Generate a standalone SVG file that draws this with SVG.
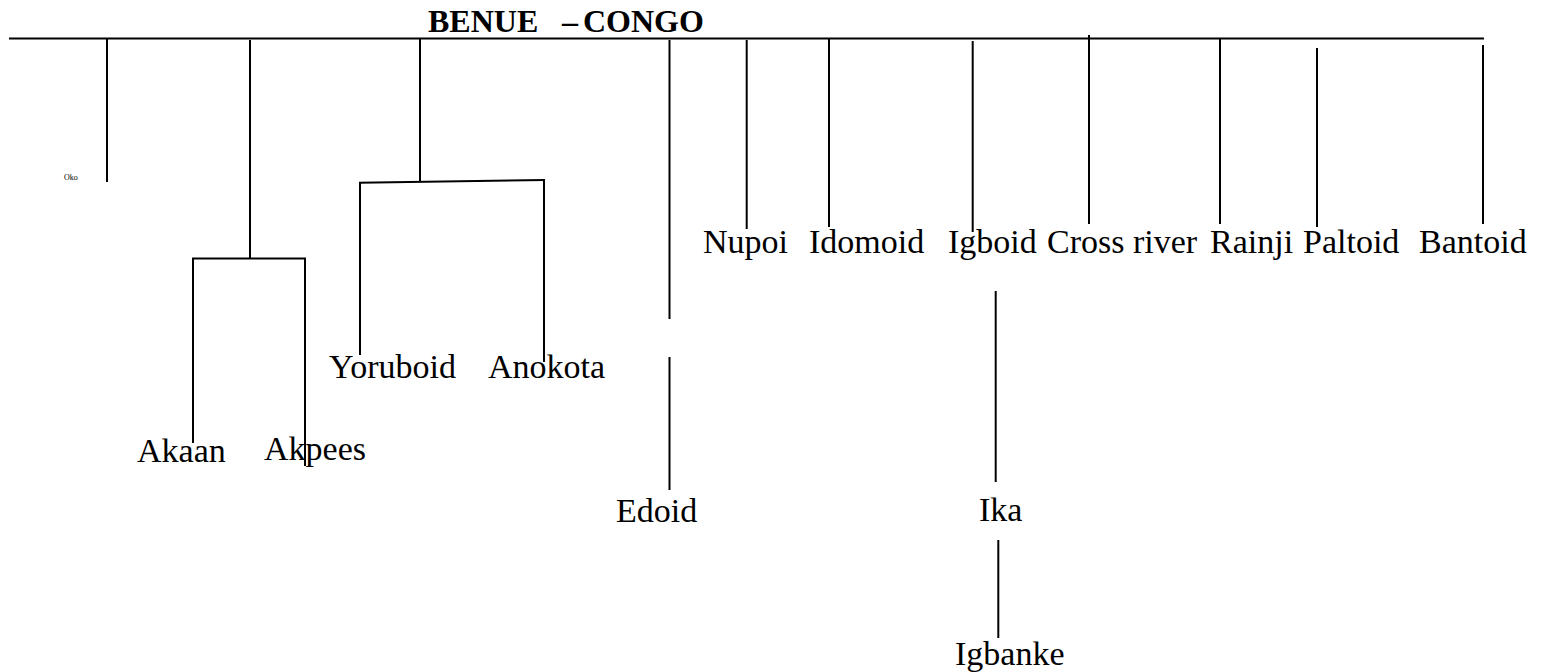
<svg xmlns="http://www.w3.org/2000/svg" width="1544" height="672" viewBox="0 0 1544 672">
<style>
.ln{stroke:#000;stroke-width:2;fill:none}
.lb{font-family:"Liberation Serif","Times New Roman",serif;font-size:34px;fill:#000}
.tt{font-family:"Liberation Serif","Times New Roman",serif;font-size:32px;font-weight:bold;fill:#000}
.sm{font-family:"Liberation Serif","Times New Roman",serif;font-size:8px;fill:#000}
</style>
<rect width="1544" height="672" fill="#fff"/>
<g id="connectors">
<line class="ln" x1="9" y1="38.5" x2="1484" y2="38.5"/>
<line class="ln" x1="107" y1="39" x2="107" y2="182"/>
<line class="ln" x1="250" y1="40" x2="250" y2="258.5"/>
<line class="ln" x1="192" y1="258.5" x2="306" y2="258.5"/>
<line class="ln" x1="193" y1="258" x2="193" y2="443"/>
<line class="ln" x1="305" y1="258" x2="305" y2="466"/>
<line class="ln" x1="420" y1="39" x2="420" y2="182"/>
<line class="ln" x1="359" y1="182.7" x2="545" y2="180"/>
<line class="ln" x1="360" y1="182" x2="360" y2="355"/>
<line class="ln" x1="544" y1="181" x2="544" y2="362"/>
<line class="ln" x1="669.5" y1="40" x2="669.5" y2="319"/>
<line class="ln" x1="669.5" y1="357" x2="669.5" y2="490"/>
<line class="ln" x1="746.7" y1="40" x2="746.7" y2="229"/>
<line class="ln" x1="829" y1="39" x2="829" y2="227"/>
<line class="ln" x1="972.7" y1="41" x2="972.7" y2="232"/>
<line class="ln" x1="1089" y1="35" x2="1089" y2="224"/>
<line class="ln" x1="1220" y1="39" x2="1220" y2="224"/>
<line class="ln" x1="1317" y1="48" x2="1317" y2="227"/>
<line class="ln" x1="1483" y1="45" x2="1483" y2="224"/>
<line class="ln" x1="995.7" y1="291" x2="995.7" y2="482"/>
<line class="ln" x1="998.3" y1="540" x2="998.3" y2="638"/>
</g>
<g id="title"><text class="tt" y="31.5"><tspan x="428">BENUE</tspan> <tspan x="562">–</tspan> <tspan x="583">CONGO</tspan></text></g>
<g id="oko"><text class="sm" x="64" y="180">Oko</text></g>
<g id="akaan"><text class="lb" x="137" y="462">Akaan</text></g>
<g id="akpees"><text class="lb" x="264" y="460">Akpees</text></g>
<g id="yoruboid"><text class="lb" x="329" y="378">Yoruboid</text></g>
<g id="anokota"><text class="lb" x="488" y="378">Anokota</text></g>
<g id="edoid"><text class="lb" x="616" y="522">Edoid</text></g>
<g id="nupoi"><text class="lb" x="703" y="253">Nupoi</text></g>
<g id="idomoid"><text class="lb" x="809" y="253">Idomoid</text></g>
<g id="igboid"><text class="lb" x="948" y="253">Igboid</text></g>
<g id="crossriver"><text class="lb" x="1047" y="253">Cross river</text></g>
<g id="rainji"><text class="lb" x="1210" y="253">Rainji</text></g>
<g id="paltoid"><text class="lb" x="1303" y="253">Paltoid</text></g>
<g id="bantoid"><text class="lb" x="1419" y="253">Bantoid</text></g>
<g id="ika"><text class="lb" x="979" y="521">Ika</text></g>
<g id="igbanke"><text class="lb" x="955" y="665">Igbanke</text></g>
</svg>
